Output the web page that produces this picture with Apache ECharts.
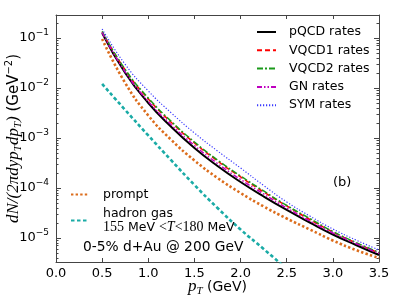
<!DOCTYPE html>
<html>
<head>
<meta charset="utf-8">
<script src="https://cdn.jsdelivr.net/npm/echarts@6/dist/echarts.min.js"></script>
<style>
html,body{margin:0;padding:0;background:#fff;}
#chart{width:399px;height:299px;}
</style>
</head>
<body>
<div id="chart"></div>
<script>
// ---- data ----
const pT = [0.5, 0.75, 1.0, 1.25, 1.5, 1.75, 2.0, 2.25, 2.5, 2.75, 3.0, 3.25, 3.5];
const pQCD  = [0.1259, 0.01995, 0.005012, 0.001660, 6.31e-4, 2.754e-4, 1.318e-4, 6.76e-5, 3.63e-5, 2.04e-5, 1.175e-5, 7.24e-6, 4.57e-6];
const VQCD1 = [0.1318, 0.02291, 0.006026, 0.002042, 7.94e-4, 3.47e-4, 1.660e-4, 8.32e-5, 4.37e-5, 2.344e-5, 1.318e-5, 7.94e-6, 5.01e-6];
const VQCD2 = [0.1349, 0.02344, 0.006310, 0.002138, 8.32e-4, 3.63e-4, 1.738e-4, 8.71e-5, 4.47e-5, 2.455e-5, 1.349e-5, 8.13e-6, 5.13e-6];
const GN    = [0.1288, 0.02089, 0.005370, 0.001820, 7.08e-4, 3.09e-4, 1.479e-4, 7.59e-5, 3.98e-5, 2.188e-5, 1.259e-5, 7.76e-6, 4.90e-6];
const SYM   = [0.1514, 0.02951, 0.008710, 0.003162, 0.001259, 5.50e-4, 2.51e-4, 1.122e-4, 5.25e-5, 2.75e-5, 1.514e-5, 9.12e-6, 5.75e-6];
const prompt = [0.0955, 0.01259, 0.002818, 9.12e-4, 3.55e-4, 1.585e-4, 7.94e-5, 4.27e-5, 2.455e-5, 1.479e-5, 8.91e-6, 5.75e-6, 3.98e-6];
const hadronPT = [0.5, 0.75, 1.0, 1.25, 1.5, 1.75, 2.0, 2.25, 2.5];
const hadron = [0.01202, 0.003631, 0.001122, 3.55e-4, 1.148e-4, 3.98e-5, 1.479e-5, 6.03e-6, 2.40e-6];

const xTicks = [0, 0.5, 1.0, 1.5, 2.0, 2.5, 3.0, 3.5];
const yMajor = [1e-5, 1e-4, 1e-3, 1e-2, 1e-1];
const yMajorExp = ['−5', '−4', '−3', '−2', '−1'];
const yMin = 3.31e-6, yMax = 0.288;

const yMinor = [];
for (let k = -6; k <= -1; k++) {
  for (let m = 2; m <= 9; m++) {
    const v = m * Math.pow(10, k);
    if (v > yMin && v < yMax) yMinor.push(v);
  }
}

const sans = 'DejaVu Sans';
const serif = 'Liberation Serif';
const frameColor = '#444';

function pairs(xs, ys) { return xs.map((x, i) => [x, ys[i]]); }

const chart = echarts.init(document.getElementById('chart'), null, {renderer: 'canvas'});

const yBase = {
  type: 'log', min: yMin, max: yMax, logBase: 10,
  splitLine: {show: false},
  axisLine: {show: true, lineStyle: {color: frameColor, width: 1}},
};

const hiddenSymbol = {color: 'rgba(0,0,0,0)', borderColor: 'rgba(0,0,0,0)', borderWidth: 0, opacity: 0};

const option = {
  animation: false,
  backgroundColor: '#fff',
  grid: {left: 56, right: 20, top: 15, bottom: 37, containLabel: false, outerBoundsMode: 'none'},
  xAxis: [
    {
      type: 'value', min: 0, max: 3.5, interval: 0.5, position: 'bottom',
      splitLine: {show: false},
      axisLine: {lineStyle: {color: frameColor, width: 1}},
      axisTick: {inside: true, length: 4, lineStyle: {color: frameColor}},
      axisLabel: {color: '#000', fontFamily: sans, fontSize: 13, margin: 5,
        formatter: v => v.toFixed(1)},
      name: '{i|p}{s|T}{t| (GeV)}',
      nameLocation: 'middle', nameGap: 15, nameMoveOverlap: false,
      nameTextStyle: {
        rich: {
          i: {fontFamily: serif, fontStyle: 'italic', fontSize: 17, color: '#000', lineHeight: 20},
          s: {fontFamily: serif, fontStyle: 'italic', fontSize: 11, color: '#000', verticalAlign: 'bottom'},
          t: {fontFamily: sans, fontSize: 14, color: '#000', lineHeight: 20}
        }
      }
    },
    {
      type: 'value', min: 0, max: 3.5, interval: 0.5, position: 'top',
      splitLine: {show: false},
      axisLine: {lineStyle: {color: frameColor, width: 1}},
      axisTick: {inside: true, length: 4, lineStyle: {color: frameColor}},
      axisLabel: {show: false}
    }
  ],
  yAxis: [
    Object.assign({}, yBase, {
      position: 'left',
      axisTick: {show: true, inside: true, length: 5, lineStyle: {color: frameColor}, customValues: yMajor},
      axisLabel: {
        customValues: yMajor, margin: 7,
        formatter: function (v) {
          const idx = yMajor.findIndex(t => Math.abs(Math.log10(t) - Math.log10(v)) < 1e-6);
          if (idx < 0) return '';
          return '{b|10}{u|' + yMajorExp[idx] + '}';
        },
        rich: {
          b: {fontFamily: sans, fontSize: 13, color: '#000', lineHeight: 20},
          u: {fontFamily: sans, fontSize: 9, color: '#000', verticalAlign: 'top', lineHeight: 14}
        }
      },
      name: '{m|dN/(2πdyp}{s|T}{m|dp}{s|T}{m|)}{t| (GeV}{u|−2}{t|)}',
      nameLocation: 'middle', nameGap: 32, nameMoveOverlap: false,
      nameTextStyle: {
        rich: {
          m: {fontFamily: serif, fontStyle: 'italic', fontSize: 17, color: '#000', lineHeight: 20},
          s: {fontFamily: serif, fontStyle: 'italic', fontSize: 11, color: '#000', verticalAlign: 'bottom'},
          t: {fontFamily: sans, fontSize: 15, color: '#000', lineHeight: 20},
          u: {fontFamily: sans, fontSize: 10, color: '#000', verticalAlign: 'top'}
        }
      }
    }),
    Object.assign({}, yBase, {
      position: 'left',
      axisLine: {show: false},
      axisTick: {show: true, inside: true, length: 2.5, lineStyle: {color: frameColor}, customValues: yMinor},
      axisLabel: {show: false}
    }),
    Object.assign({}, yBase, {
      position: 'right',
      axisTick: {show: true, inside: true, length: 5, lineStyle: {color: frameColor}, customValues: yMajor},
      axisLabel: {show: false}
    }),
    Object.assign({}, yBase, {
      position: 'right',
      axisLine: {show: false},
      axisTick: {show: true, inside: true, length: 2.5, lineStyle: {color: frameColor}, customValues: yMinor},
      axisLabel: {show: false}
    })
  ],
  legend: [
    {
      data: ['pQCD rates', 'VQCD1 rates', 'VQCD2 rates', 'GN rates', 'SYM rates'],
      orient: 'vertical', left: 256, top: 25, padding: 0,
      itemWidth: 19, itemHeight: 14, itemGap: 4.3,
      itemStyle: hiddenSymbol,
      textStyle: {fontFamily: sans, fontSize: 12.5, color: '#000', padding: [0, 0, 0, 8], lineHeight: 14},
      selectedMode: false
    },
    {
      data: ['prompt', 'hadron gas'],
      orient: 'vertical', left: 70, top: 188, padding: 0,
      itemWidth: 18, itemHeight: 14, itemGap: 6,
      itemStyle: hiddenSymbol,
      selectedMode: false,
      formatter: function (name) {
        if (name === 'hadron gas') return '{a|hadron gas}\n{n|155}{c| MeV }{n|<}{k|T}{n|<180}{c| MeV}';
        return '{a|' + name + '}';
      },
      textStyle: {
        fontFamily: sans, fontSize: 12.5, color: '#000', padding: [0, 0, 0, 9],
        rich: {
          a: {fontFamily: sans, fontSize: 12.5, color: '#000', lineHeight: 14},
          c: {fontFamily: sans, fontSize: 12.5, color: '#000', lineHeight: 14},
          n: {fontFamily: serif, fontSize: 14, color: '#000', lineHeight: 14},
          k: {fontFamily: serif, fontStyle: 'italic', fontSize: 14, color: '#000', lineHeight: 14}
        }
      }
    }
  ],
  graphic: [
    {type: 'text', left: 333, top: 176, style: {text: '(b)', fontFamily: sans, fontSize: 13, fill: '#000'}},
    {type: 'text', left: 83, top: 240, style: {text: '0-5% d+Au @ 200 GeV', fontFamily: sans, fontSize: 13.8, fill: '#000'}}
  ],
  series: [
    {name: 'pQCD rates', type: 'line', data: pairs(pT, pQCD), smooth: true, symbol: 'none',
      lineStyle: {color: '#000', width: 2, type: 'solid'}, itemStyle: {color: '#000'}},
    {name: 'VQCD1 rates', type: 'line', data: pairs(pT, VQCD1), smooth: true, symbol: 'none',
      lineStyle: {color: '#ff0000', width: 1.5, type: [5, 3]}, itemStyle: {color: '#ff0000'}},
    {name: 'VQCD2 rates', type: 'line', data: pairs(pT, VQCD2), smooth: true, symbol: 'none',
      lineStyle: {color: '#1a9a1a', width: 1.5, type: [6, 2, 2, 2]}, itemStyle: {color: '#1a9a1a'}},
    {name: 'GN rates', type: 'line', data: pairs(pT, GN), smooth: true, symbol: 'none',
      lineStyle: {color: '#bf00bf', width: 1.5, type: [5, 2, 1.5, 2, 1.5, 2]}, itemStyle: {color: '#bf00bf'}},
    {name: 'SYM rates', type: 'line', data: pairs(pT, SYM), smooth: true, symbol: 'none',
      lineStyle: {color: '#3a3aff', width: 1.2, type: [1.2, 1.8]}, itemStyle: {color: '#3a3aff'}},
    {name: 'prompt', type: 'line', data: pairs(pT, prompt), smooth: true, symbol: 'none',
      lineStyle: {color: '#dc6d1c', width: 2.6, type: [2.4, 2.2]}, itemStyle: {color: '#dc6d1c'}},
    {name: 'hadron gas', type: 'line', data: pairs(hadronPT, hadron), smooth: true, symbol: 'none', clip: true,
      lineStyle: {color: '#1aaba6', width: 2.6, type: [3.5, 2.5]}, itemStyle: {color: '#1aaba6'}}
  ]
};

chart.setOption(option);
</script>
</body>
</html>
